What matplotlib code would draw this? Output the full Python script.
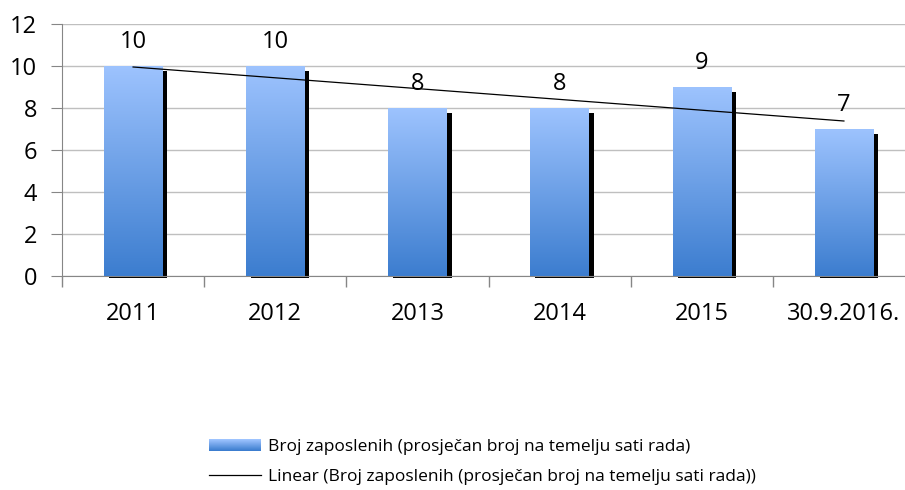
import matplotlib
matplotlib.use('Agg')
import matplotlib.pyplot as plt
import numpy as np
from matplotlib.colors import LinearSegmentedColormap
from matplotlib.patches import Rectangle
from matplotlib.lines import Line2D
from matplotlib.legend_handler import HandlerBase

plt.rcParams['font.family'] = ['Open Sans', 'DejaVu Sans']

categories = ['2011', '2012', '2013', '2014', '2015', '30.9.2016.']
values = [10, 10, 8, 8, 9, 7]
yticks = [0, 2, 4, 6, 8, 10, 12]
series_label = 'Broj zaposlenih (prosječan broj na temelju sati rada)'
trend_label = 'Linear (Broj zaposlenih (prosječan broj na temelju sati rada))'

TOP = '#9dc3fe'
BOTTOM = '#3c7dcf'
grad_cmap = LinearSegmentedColormap.from_list('bar', [BOTTOM, TOP])


class HandlerGrad(HandlerBase):
    # legend key drawn as a few horizontal bands of the gradient
    def create_artists(self, legend, orig, xd, yd, w, h, fs, trans):
        n = 12
        arts = []
        for i in range(n):
            c = grad_cmap(1 - i / (n - 1))
            r = Rectangle((-xd, -yd + h * (n - 1 - i) / n), w, h / n + 0.3,
                          facecolor=c, edgecolor='none', transform=trans)
            arts.append(r)
        return arts


fig = plt.figure(figsize=(9.05, 4.9), dpi=100)
ax = fig.add_axes([62 / 905, 1 - 276 / 490, 853 / 905, 252 / 490])

x = np.arange(len(categories))
w = 0.41
grad = np.linspace(0, 1, 256).reshape(-1, 1)

for xi, v in zip(x, values):
    # shadow
    ax.add_patch(Rectangle((xi - w / 2 + 0.035, -0.1), w, v - 0.24 + 0.1,
                           facecolor='black', edgecolor='none', zorder=2,
                           clip_on=False))
    ax.imshow(grad, extent=[xi - w / 2, xi + w / 2, 0, v], origin='lower',
              cmap=grad_cmap, aspect='auto', zorder=3)
    ax.annotate(str(v), (xi, v), xytext=(0, 13), textcoords='offset points',
                ha='center', va='baseline', fontsize=17)

# linear trend
k, b = np.polyfit(x + 1, values, 1)
ax.plot(x, k * (x + 1) + b, color='black', lw=0.9, zorder=4)

ax.set_xlim(-0.5, len(categories) - 0.5)
ax.set_ylim(0, 12)
ax.set_yticks(yticks)
ax.set_xticks(x)
ax.set_xticklabels(categories)
ax.set_xticks(np.arange(-0.5, len(categories)), minor=True)
ax.tick_params(axis='x', which='major', length=0, pad=19, labelsize=17)
ax.tick_params(axis='x', which='minor', length=8, color='#868686', width=1)
ax.tick_params(axis='y', length=8, color='#868686', pad=10, labelsize=17)

ax.yaxis.grid(True, color='#bfbfbf', lw=1)
ax.set_axisbelow(True)
for s in ['top', 'right']:
    ax.spines[s].set_visible(False)
for s in ['left', 'bottom']:
    ax.spines[s].set_color('#868686')

handles = [Rectangle((0, 0), 1, 1), Line2D([], [], color='black', lw=0.9)]
fig.legend(handles, [series_label, trend_label], loc='center left',
           bbox_to_anchor=(209 / 905, 1 - 462 / 490), frameon=False,
           fontsize=12.5, handlelength=3.0, handletextpad=0.38, borderpad=0,
           borderaxespad=0, labelspacing=0.75,
           handler_map={Rectangle: HandlerGrad()})

fig.savefig('out.png', dpi=100)
